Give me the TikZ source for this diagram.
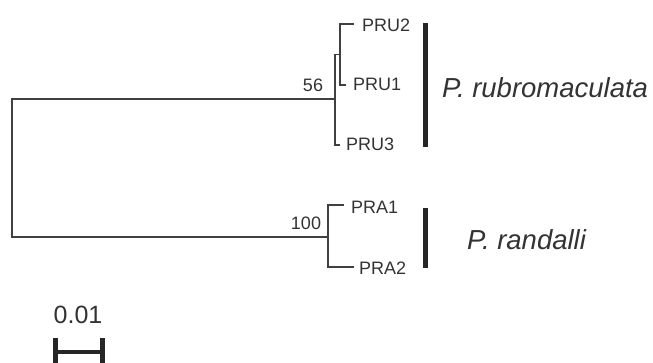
\documentclass[tikz,border=0pt]{standalone}
\usepackage{fontspec}
\setmainfont{Liberation Sans}
\begin{document}
\begin{tikzpicture}[x=1pt,y=-1pt,
  branch/.style={draw=black!75, line width=1.3pt, line cap=rect},
  tiplabel/.style={anchor=west, inner sep=0pt, text=black!80, font=\fontsize{18}{21}\selectfont},
  support/.style={inner sep=0pt, text=black!80, font=\fontsize{18}{21}\selectfont},
  cladebar/.style={draw=black!85, line width=5pt},
  species/.style={anchor=west, inner sep=0pt, text=black!80, font=\fontsize{27.5}{32}\selectfont\itshape}]
\useasboundingbox (0,0) rectangle (653,363);

% internal nodes
\coordinate (root) at (12,168);
\coordinate (nRU) at (335,99);
\coordinate (nIn) at (340,54.5);
\coordinate (nRA) at (328,237);

% tips
\coordinate (tPRU2) at (353,24);
\coordinate (tPRU1) at (345,85);
\coordinate (tPRU3) at (339,145);
\coordinate (tPRA1) at (343,205);
\coordinate (tPRA2) at (353,267);

% branches
\draw[branch] (root) |- (nRU);
\draw[branch] (root) |- (nRA);
\draw[branch] (nRU) |- (nIn);
\draw[branch] (nRU) |- (tPRU3);
\draw[branch] (nIn) |- (tPRU2);
\draw[branch] (nIn) |- (tPRU1);
\draw[branch] (nRA) |- (tPRA1);
\draw[branch] (nRA) |- (tPRA2);

% tip labels
\node[tiplabel] (lPRU2) at (362,25.5) {PRU2};
\node[tiplabel] (lPRU1) at (353,84) {PRU1};
\node[tiplabel] (lPRU3) at (346,144) {PRU3};
\node[tiplabel] (lPRA1) at (351,207) {PRA1};
\node[tiplabel] (lPRA2) at (359,268.5) {PRA2};

% bootstrap support
\node[support] (b56) at (313,85) {56};
\node[support] (b100) at (306,223) {100};

% clade bars and species names
\coordinate (ruTop) at (425,23);
\coordinate (ruBot) at (425,147);
\coordinate (raTop) at (425,208);
\coordinate (raBot) at (425,268);
\draw[cladebar] (ruTop) -- (ruBot);
\draw[cladebar] (raTop) -- (raBot);
\node[species] (spRU) at (442,88) {P. rubromaculata};
\node[species] (spRA) at (467,240) {P. randalli};

% scale bar
\coordinate (sL) at (55,352);
\coordinate (sR) at (102,352);
\coordinate (sLt) at (55,338);
\coordinate (sLb) at (55,368);
\coordinate (sRt) at (102,338);
\coordinate (sRb) at (102,368);
\draw[black!85, line width=4pt] (sL) -- (sR);
\draw[black!85, line width=5pt] (sLt) -- (sLb);
\draw[black!85, line width=5pt] (sRt) -- (sRb);
\node[inner sep=0pt, text=black!80, font=\fontsize{25}{30}\selectfont] (scale) at (78,315) {0.01};
\end{tikzpicture}
\end{document}
